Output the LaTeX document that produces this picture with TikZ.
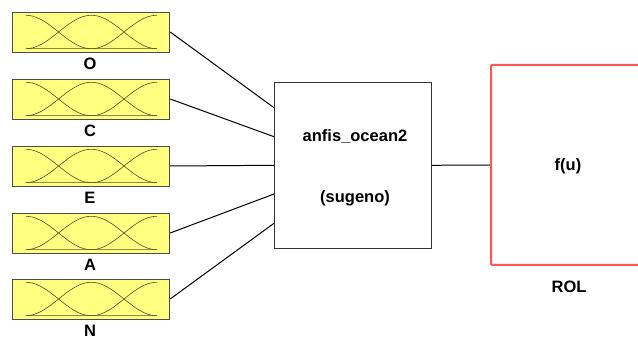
\documentclass[tikz,border=0pt]{standalone}
\usepackage{fontspec}
\setmainfont{Liberation Sans}
\definecolor{mfyellow}{RGB}{255,255,128}
\definecolor{mfline}{RGB}{80,80,40}
\definecolor{rolred}{RGB}{255,85,85}
\tikzset{
  mfbox/.style={draw=black!70, fill=mfyellow, line width=0.8pt, minimum width=157pt, minimum height=40pt, inner sep=0pt},
  fisbox/.style={draw=black!80, line width=0.9pt, minimum width=157.7pt, minimum height=166pt, inner sep=0pt, align=center},
  rolbox/.style={draw=rolred, line width=2pt, rounded corners=1pt, minimum width=240pt, minimum height=200pt, inner sep=0pt},
  lbl/.style={font=\fontsize{16.5}{19}\selectfont\bfseries, inner sep=0pt},
  conn/.style={line width=1pt, black},
  mfcurve/.style={line width=0.6pt, mfline}
}
\begin{document}
\begin{tikzpicture}[x=1pt,y=-1pt]
\useasboundingbox (0,0) rectangle (638,339);
\clip (0,0) rectangle (638,339);
\fill[white] (0,0) rectangle (638,339);
% input MF boxes
\foreach \nm/\yy/\tx in {o/32/O, c/99/C, e/166/E, a/233/A, n/299/N}{
  \node[mfbox] (\nm) at (91.3,\yy) {};
  \node[lbl] (\nm lbl) at (90,\yy+32.3) {\tx};
  \begin{scope}[shift={(\nm.center)}]
    \draw[mfcurve] plot[domain=-65.5:0, samples=40] ({\x},{-16.7*cos(180*(\x+65.5)/65.5)}) -- (65.5,16.7);
    \draw[mfcurve] plot[domain=-65.5:65.5, samples=60] ({\x},{-16.7*cos(180*\x/65.5)});
    \draw[mfcurve] (-65.5,16.7) -- plot[domain=0:65.5, samples=40] ({\x},{-16.7*cos(180*(65.5-\x)/65.5)});
  \end{scope}
}
% FIS box
\node[fisbox] (fis) at (352.9,165.3) {};
\node[lbl] (fisname) at (355,136.7) {anfis\_ocean2};
\node[lbl] (fistype) at (355,198) {(sugeno)};
% input connection points
\coordinate (in1) at (274,107.7);
\coordinate (in2) at (274,136.7);
\coordinate (in3) at (274,165.3);
\coordinate (in4) at (274,194);
\coordinate (in5) at (274,223.3);
\draw[conn] (o.east) -- (in1);
\draw[conn] (c.east) -- (in2);
\draw[conn] (e.east) -- (in3);
\draw[conn] (a.east) -- (in4);
\draw[conn] (n.east) -- (in5);
% output block
\node[rolbox] (rol) at (611,165) {};
\node[lbl] (fu) at (568,166) {f(u)};
\node[lbl] (rollbl) at (569,286.5) {ROL};
\draw[conn] (fis.east) -- (rol.west);
\end{tikzpicture}
\end{document}
